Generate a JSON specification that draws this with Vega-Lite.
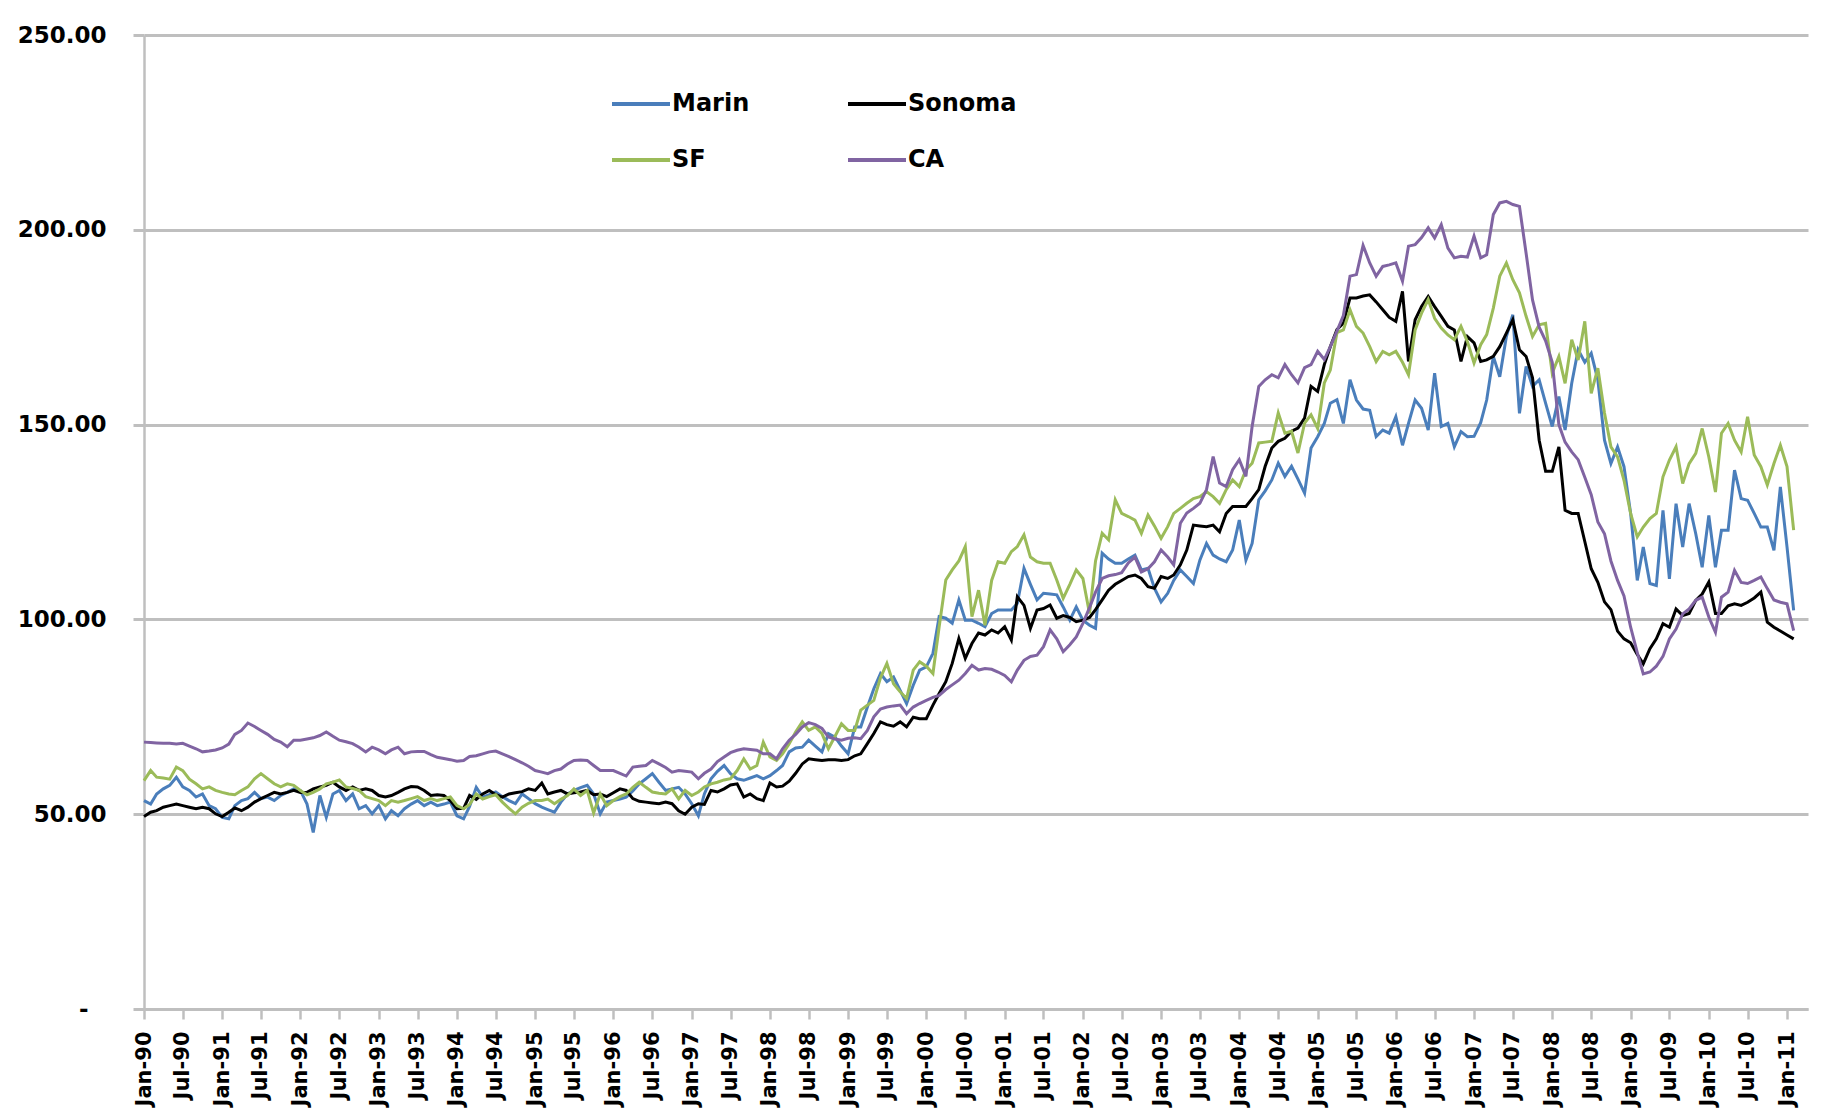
{
"$schema": "https://vega.github.io/schema/vega-lite/v6.json",
"width": 1664, "height": 974,
"autosize": {"type": "none"},
"padding": {"left": 144, "top": 35, "right": 17, "bottom": 108},
"background": "white",
"config": {"view": {"stroke": null}},
"data": {"format": {"parse": {"d": "date:'%Y-%m'"}}, "values": [
{"d":"1990-01","Marin":53.5,"Sonoma":49.4,"SF":58.6,"CA":68.5},
{"d":"1990-02","Marin":52.6,"Sonoma":50.5,"SF":61.2,"CA":68.4},
{"d":"1990-03","Marin":55.2,"Sonoma":50.9,"SF":59.5,"CA":68.3},
{"d":"1990-04","Marin":56.5,"Sonoma":51.8,"SF":59.3,"CA":68.2},
{"d":"1990-05","Marin":57.4,"Sonoma":52.2,"SF":59.0,"CA":68.2},
{"d":"1990-06","Marin":59.5,"Sonoma":52.6,"SF":62.1,"CA":68.0},
{"d":"1990-07","Marin":57.0,"Sonoma":52.2,"SF":61.2,"CA":68.2},
{"d":"1990-08","Marin":56.1,"Sonoma":51.8,"SF":59.0,"CA":67.5},
{"d":"1990-09","Marin":54.4,"Sonoma":51.4,"SF":57.8,"CA":66.8},
{"d":"1990-10","Marin":55.2,"Sonoma":51.8,"SF":56.5,"CA":66.0},
{"d":"1990-11","Marin":52.2,"Sonoma":51.4,"SF":57.0,"CA":66.2},
{"d":"1990-12","Marin":51.4,"Sonoma":50.1,"SF":56.1,"CA":66.5},
{"d":"1991-01","Marin":49.2,"Sonoma":49.4,"SF":55.6,"CA":67.0},
{"d":"1991-02","Marin":48.8,"Sonoma":50.5,"SF":55.2,"CA":68.0},
{"d":"1991-03","Marin":52.2,"Sonoma":51.6,"SF":55.0,"CA":70.5},
{"d":"1991-04","Marin":53.5,"Sonoma":50.9,"SF":56.1,"CA":71.5},
{"d":"1991-05","Marin":54.0,"Sonoma":51.8,"SF":57.0,"CA":73.4},
{"d":"1991-06","Marin":55.6,"Sonoma":53.1,"SF":59.1,"CA":72.5},
{"d":"1991-07","Marin":54.0,"Sonoma":54.0,"SF":60.4,"CA":71.5},
{"d":"1991-08","Marin":54.4,"Sonoma":54.8,"SF":59.1,"CA":70.5},
{"d":"1991-09","Marin":53.5,"Sonoma":55.6,"SF":57.8,"CA":69.2},
{"d":"1991-10","Marin":54.8,"Sonoma":55.2,"SF":57.0,"CA":68.5},
{"d":"1991-11","Marin":55.6,"Sonoma":55.6,"SF":57.8,"CA":67.3},
{"d":"1991-12","Marin":56.5,"Sonoma":56.1,"SF":57.4,"CA":69.0},
{"d":"1992-01","Marin":56.1,"Sonoma":55.6,"SF":56.1,"CA":69.0},
{"d":"1992-02","Marin":52.6,"Sonoma":55.6,"SF":55.0,"CA":69.3},
{"d":"1992-03","Marin":45.3,"Sonoma":56.5,"SF":55.6,"CA":69.6},
{"d":"1992-04","Marin":54.8,"Sonoma":57.0,"SF":56.5,"CA":70.2},
{"d":"1992-05","Marin":49.2,"Sonoma":57.4,"SF":57.8,"CA":71.1},
{"d":"1992-06","Marin":55.2,"Sonoma":58.2,"SF":58.2,"CA":70.0},
{"d":"1992-07","Marin":56.1,"Sonoma":57.0,"SF":58.8,"CA":69.0},
{"d":"1992-08","Marin":53.5,"Sonoma":56.1,"SF":57.0,"CA":68.6},
{"d":"1992-09","Marin":55.2,"Sonoma":57.0,"SF":56.6,"CA":68.1},
{"d":"1992-10","Marin":51.4,"Sonoma":56.1,"SF":56.1,"CA":67.2},
{"d":"1992-11","Marin":52.2,"Sonoma":56.5,"SF":54.5,"CA":66.0},
{"d":"1992-12","Marin":50.1,"Sonoma":56.1,"SF":54.0,"CA":67.2},
{"d":"1993-01","Marin":52.2,"Sonoma":54.8,"SF":53.5,"CA":66.5},
{"d":"1993-02","Marin":48.8,"Sonoma":54.4,"SF":52.2,"CA":65.5},
{"d":"1993-03","Marin":50.9,"Sonoma":54.8,"SF":53.5,"CA":66.5},
{"d":"1993-04","Marin":49.6,"Sonoma":55.6,"SF":53.1,"CA":67.2},
{"d":"1993-05","Marin":51.4,"Sonoma":56.5,"SF":53.5,"CA":65.5},
{"d":"1993-06","Marin":52.6,"Sonoma":57.1,"SF":54.0,"CA":66.0},
{"d":"1993-07","Marin":53.5,"Sonoma":57.0,"SF":54.5,"CA":66.1},
{"d":"1993-08","Marin":52.2,"Sonoma":56.1,"SF":53.5,"CA":66.1},
{"d":"1993-09","Marin":53.1,"Sonoma":54.8,"SF":54.0,"CA":65.3},
{"d":"1993-10","Marin":52.2,"Sonoma":55.0,"SF":53.5,"CA":64.6},
{"d":"1993-11","Marin":52.6,"Sonoma":54.8,"SF":54.0,"CA":64.3},
{"d":"1993-12","Marin":53.1,"Sonoma":53.5,"SF":54.4,"CA":64.0},
{"d":"1994-01","Marin":49.6,"Sonoma":51.4,"SF":52.2,"CA":63.6},
{"d":"1994-02","Marin":48.8,"Sonoma":51.5,"SF":51.4,"CA":63.8},
{"d":"1994-03","Marin":52.0,"Sonoma":54.8,"SF":52.5,"CA":64.8},
{"d":"1994-04","Marin":56.9,"Sonoma":53.8,"SF":55.2,"CA":65.0},
{"d":"1994-05","Marin":54.4,"Sonoma":55.2,"SF":53.9,"CA":65.5},
{"d":"1994-06","Marin":55.0,"Sonoma":56.1,"SF":54.5,"CA":66.0},
{"d":"1994-07","Marin":55.7,"Sonoma":55.0,"SF":55.0,"CA":66.2},
{"d":"1994-08","Marin":54.5,"Sonoma":54.4,"SF":53.1,"CA":65.5},
{"d":"1994-09","Marin":53.5,"Sonoma":55.2,"SF":51.5,"CA":64.8},
{"d":"1994-10","Marin":52.7,"Sonoma":55.5,"SF":50.1,"CA":64.0},
{"d":"1994-11","Marin":55.2,"Sonoma":55.8,"SF":51.8,"CA":63.2},
{"d":"1994-12","Marin":54.0,"Sonoma":56.5,"SF":52.8,"CA":62.3},
{"d":"1995-01","Marin":52.7,"Sonoma":56.1,"SF":53.5,"CA":61.2},
{"d":"1995-02","Marin":51.8,"Sonoma":58.0,"SF":53.5,"CA":60.8},
{"d":"1995-03","Marin":51.2,"Sonoma":55.2,"SF":53.9,"CA":60.4},
{"d":"1995-04","Marin":50.5,"Sonoma":55.7,"SF":52.7,"CA":61.2},
{"d":"1995-05","Marin":53.1,"Sonoma":56.1,"SF":53.8,"CA":61.6},
{"d":"1995-06","Marin":55.2,"Sonoma":55.2,"SF":54.8,"CA":62.9},
{"d":"1995-07","Marin":56.1,"Sonoma":55.5,"SF":56.5,"CA":63.8},
{"d":"1995-08","Marin":56.8,"Sonoma":55.7,"SF":54.8,"CA":63.9},
{"d":"1995-09","Marin":57.4,"Sonoma":56.1,"SF":56.1,"CA":63.8},
{"d":"1995-10","Marin":55.2,"Sonoma":55.0,"SF":50.3,"CA":62.5},
{"d":"1995-11","Marin":50.1,"Sonoma":55.2,"SF":55.2,"CA":61.2},
{"d":"1995-12","Marin":53.1,"Sonoma":54.5,"SF":52.2,"CA":61.2},
{"d":"1996-01","Marin":53.5,"Sonoma":55.5,"SF":53.5,"CA":61.2},
{"d":"1996-02","Marin":53.9,"Sonoma":56.5,"SF":54.5,"CA":60.5},
{"d":"1996-03","Marin":54.4,"Sonoma":56.1,"SF":55.2,"CA":59.8},
{"d":"1996-04","Marin":56.0,"Sonoma":54.0,"SF":56.9,"CA":62.1},
{"d":"1996-05","Marin":57.8,"Sonoma":53.3,"SF":58.2,"CA":62.3},
{"d":"1996-06","Marin":59.1,"Sonoma":53.1,"SF":56.9,"CA":62.5},
{"d":"1996-07","Marin":60.4,"Sonoma":52.9,"SF":55.7,"CA":63.8},
{"d":"1996-08","Marin":58.2,"Sonoma":52.7,"SF":55.4,"CA":62.9},
{"d":"1996-09","Marin":56.1,"Sonoma":53.1,"SF":55.2,"CA":62.0},
{"d":"1996-10","Marin":56.5,"Sonoma":52.7,"SF":56.5,"CA":60.8},
{"d":"1996-11","Marin":56.9,"Sonoma":50.9,"SF":53.9,"CA":61.2},
{"d":"1996-12","Marin":55.2,"Sonoma":50.0,"SF":56.1,"CA":61.0},
{"d":"1997-01","Marin":52.7,"Sonoma":51.8,"SF":54.8,"CA":60.8},
{"d":"1997-02","Marin":49.6,"Sonoma":52.7,"SF":55.7,"CA":59.1},
{"d":"1997-03","Marin":55.2,"Sonoma":52.5,"SF":57.0,"CA":60.5},
{"d":"1997-04","Marin":59.1,"Sonoma":56.1,"SF":57.8,"CA":61.6},
{"d":"1997-05","Marin":61.0,"Sonoma":55.7,"SF":58.2,"CA":63.5},
{"d":"1997-06","Marin":62.5,"Sonoma":56.5,"SF":58.8,"CA":64.7},
{"d":"1997-07","Marin":60.4,"Sonoma":57.5,"SF":59.1,"CA":65.8},
{"d":"1997-08","Marin":59.1,"Sonoma":57.8,"SF":61.2,"CA":66.4},
{"d":"1997-09","Marin":58.7,"Sonoma":54.4,"SF":64.2,"CA":66.8},
{"d":"1997-10","Marin":59.3,"Sonoma":55.2,"SF":61.6,"CA":66.6},
{"d":"1997-11","Marin":59.9,"Sonoma":54.0,"SF":62.5,"CA":66.4},
{"d":"1997-12","Marin":59.1,"Sonoma":53.5,"SF":68.5,"CA":65.5},
{"d":"1998-01","Marin":59.9,"Sonoma":58.0,"SF":64.7,"CA":65.5},
{"d":"1998-02","Marin":61.2,"Sonoma":57.0,"SF":63.8,"CA":64.2},
{"d":"1998-03","Marin":62.5,"Sonoma":57.2,"SF":65.5,"CA":66.8},
{"d":"1998-04","Marin":66.0,"Sonoma":58.5,"SF":68.1,"CA":69.0},
{"d":"1998-05","Marin":67.0,"Sonoma":60.5,"SF":71.1,"CA":70.5},
{"d":"1998-06","Marin":67.2,"Sonoma":62.9,"SF":73.7,"CA":72.4},
{"d":"1998-07","Marin":69.0,"Sonoma":64.2,"SF":71.5,"CA":73.5},
{"d":"1998-08","Marin":67.5,"Sonoma":64.0,"SF":72.4,"CA":73.0},
{"d":"1998-09","Marin":66.0,"Sonoma":63.8,"SF":70.7,"CA":72.0},
{"d":"1998-10","Marin":70.7,"Sonoma":64.0,"SF":66.8,"CA":69.8},
{"d":"1998-11","Marin":69.8,"Sonoma":64.0,"SF":70.0,"CA":69.3},
{"d":"1998-12","Marin":67.5,"Sonoma":63.8,"SF":73.2,"CA":69.0},
{"d":"1999-01","Marin":65.5,"Sonoma":64.0,"SF":71.5,"CA":69.5},
{"d":"1999-02","Marin":72.4,"Sonoma":65.0,"SF":71.5,"CA":69.6},
{"d":"1999-03","Marin":72.4,"Sonoma":65.5,"SF":76.7,"CA":69.4},
{"d":"1999-04","Marin":77.5,"Sonoma":68.1,"SF":78.0,"CA":71.5},
{"d":"1999-05","Marin":82.2,"Sonoma":70.7,"SF":79.2,"CA":75.0},
{"d":"1999-06","Marin":86.1,"Sonoma":73.7,"SF":85.0,"CA":77.0},
{"d":"1999-07","Marin":84.0,"Sonoma":73.0,"SF":88.7,"CA":77.5},
{"d":"1999-08","Marin":85.2,"Sonoma":72.6,"SF":83.5,"CA":77.8},
{"d":"1999-09","Marin":81.8,"Sonoma":73.7,"SF":81.4,"CA":78.0},
{"d":"1999-10","Marin":78.4,"Sonoma":72.4,"SF":79.7,"CA":75.8},
{"d":"1999-11","Marin":83.1,"Sonoma":74.9,"SF":87.0,"CA":77.5},
{"d":"1999-12","Marin":87.0,"Sonoma":74.5,"SF":89.1,"CA":78.4},
{"d":"2000-01","Marin":87.8,"Sonoma":74.5,"SF":88.0,"CA":79.2},
{"d":"2000-02","Marin":91.3,"Sonoma":78.0,"SF":86.1,"CA":80.0},
{"d":"2000-03","Marin":100.7,"Sonoma":81.0,"SF":98.1,"CA":80.5},
{"d":"2000-04","Marin":100.3,"Sonoma":84.0,"SF":110.1,"CA":82.0},
{"d":"2000-05","Marin":99.0,"Sonoma":88.7,"SF":112.7,"CA":83.2},
{"d":"2000-06","Marin":105.0,"Sonoma":95.1,"SF":115.0,"CA":84.4},
{"d":"2000-07","Marin":99.8,"Sonoma":90.0,"SF":118.7,"CA":86.1},
{"d":"2000-08","Marin":99.8,"Sonoma":93.8,"SF":100.7,"CA":88.2},
{"d":"2000-09","Marin":99.0,"Sonoma":96.5,"SF":107.5,"CA":87.0},
{"d":"2000-10","Marin":98.1,"Sonoma":96.0,"SF":98.5,"CA":87.4},
{"d":"2000-11","Marin":101.5,"Sonoma":97.3,"SF":110.0,"CA":87.2},
{"d":"2000-12","Marin":102.4,"Sonoma":96.5,"SF":114.8,"CA":86.5},
{"d":"2001-01","Marin":102.4,"Sonoma":98.1,"SF":114.4,"CA":85.6},
{"d":"2001-02","Marin":102.4,"Sonoma":94.7,"SF":117.4,"CA":84.0},
{"d":"2001-03","Marin":104.1,"Sonoma":105.8,"SF":118.7,"CA":87.0},
{"d":"2001-04","Marin":113.1,"Sonoma":103.6,"SF":121.7,"CA":89.5},
{"d":"2001-05","Marin":109.0,"Sonoma":97.7,"SF":116.0,"CA":90.5},
{"d":"2001-06","Marin":105.0,"Sonoma":102.4,"SF":114.8,"CA":90.8},
{"d":"2001-07","Marin":106.7,"Sonoma":102.8,"SF":114.4,"CA":93.0},
{"d":"2001-08","Marin":106.5,"Sonoma":103.7,"SF":114.4,"CA":97.3},
{"d":"2001-09","Marin":106.3,"Sonoma":100.3,"SF":110.1,"CA":95.0},
{"d":"2001-10","Marin":103.2,"Sonoma":101.0,"SF":105.4,"CA":91.7},
{"d":"2001-11","Marin":99.8,"Sonoma":100.5,"SF":109.0,"CA":93.5},
{"d":"2001-12","Marin":103.2,"Sonoma":99.4,"SF":112.7,"CA":95.5},
{"d":"2002-01","Marin":99.8,"Sonoma":99.8,"SF":110.5,"CA":99.0},
{"d":"2002-02","Marin":98.5,"Sonoma":100.5,"SF":101.5,"CA":103.0},
{"d":"2002-03","Marin":97.7,"Sonoma":102.5,"SF":115.0,"CA":107.0},
{"d":"2002-04","Marin":117.0,"Sonoma":105.0,"SF":122.1,"CA":110.5},
{"d":"2002-05","Marin":115.5,"Sonoma":107.5,"SF":120.4,"CA":111.2},
{"d":"2002-06","Marin":114.4,"Sonoma":109.0,"SF":130.7,"CA":111.5},
{"d":"2002-07","Marin":114.4,"Sonoma":110.0,"SF":127.2,"CA":112.0},
{"d":"2002-08","Marin":115.5,"Sonoma":111.0,"SF":126.4,"CA":114.5},
{"d":"2002-09","Marin":116.5,"Sonoma":111.4,"SF":125.5,"CA":116.0},
{"d":"2002-10","Marin":112.7,"Sonoma":110.5,"SF":122.1,"CA":112.2},
{"d":"2002-11","Marin":113.1,"Sonoma":108.4,"SF":126.8,"CA":113.0},
{"d":"2002-12","Marin":108.0,"Sonoma":108.0,"SF":124.0,"CA":114.8},
{"d":"2003-01","Marin":104.5,"Sonoma":111.0,"SF":120.8,"CA":117.8},
{"d":"2003-02","Marin":106.7,"Sonoma":110.5,"SF":123.8,"CA":116.0},
{"d":"2003-03","Marin":110.0,"Sonoma":111.4,"SF":127.2,"CA":114.0},
{"d":"2003-04","Marin":112.7,"Sonoma":114.0,"SF":128.5,"CA":124.7},
{"d":"2003-05","Marin":111.0,"Sonoma":117.8,"SF":129.8,"CA":127.3},
{"d":"2003-06","Marin":109.2,"Sonoma":124.2,"SF":131.0,"CA":128.5},
{"d":"2003-07","Marin":115.2,"Sonoma":124.0,"SF":131.5,"CA":129.8},
{"d":"2003-08","Marin":119.5,"Sonoma":123.8,"SF":132.8,"CA":133.3},
{"d":"2003-09","Marin":116.5,"Sonoma":124.2,"SF":131.5,"CA":141.8},
{"d":"2003-10","Marin":115.5,"Sonoma":122.5,"SF":129.8,"CA":135.0},
{"d":"2003-11","Marin":114.8,"Sonoma":127.2,"SF":133.3,"CA":134.1},
{"d":"2003-12","Marin":117.8,"Sonoma":129.0,"SF":135.8,"CA":138.4},
{"d":"2004-01","Marin":125.5,"Sonoma":129.0,"SF":134.1,"CA":141.0},
{"d":"2004-02","Marin":115.2,"Sonoma":129.0,"SF":138.4,"CA":136.7},
{"d":"2004-03","Marin":119.5,"Sonoma":131.0,"SF":140.1,"CA":149.5},
{"d":"2004-04","Marin":130.7,"Sonoma":133.3,"SF":145.3,"CA":159.8},
{"d":"2004-05","Marin":133.0,"Sonoma":139.3,"SF":145.5,"CA":161.5},
{"d":"2004-06","Marin":135.8,"Sonoma":144.0,"SF":145.7,"CA":162.8},
{"d":"2004-07","Marin":140.1,"Sonoma":145.7,"SF":153.0,"CA":162.0},
{"d":"2004-08","Marin":136.7,"Sonoma":146.5,"SF":147.8,"CA":165.4},
{"d":"2004-09","Marin":139.3,"Sonoma":148.3,"SF":148.3,"CA":162.8},
{"d":"2004-10","Marin":136.0,"Sonoma":149.1,"SF":142.7,"CA":160.7},
{"d":"2004-11","Marin":132.4,"Sonoma":151.7,"SF":150.4,"CA":164.6},
{"d":"2004-12","Marin":144.0,"Sonoma":159.8,"SF":152.5,"CA":165.4},
{"d":"2005-01","Marin":146.9,"Sonoma":158.5,"SF":149.0,"CA":168.8},
{"d":"2005-02","Marin":150.3,"Sonoma":165.4,"SF":160.7,"CA":166.7},
{"d":"2005-03","Marin":155.5,"Sonoma":170.0,"SF":164.0,"CA":170.0},
{"d":"2005-04","Marin":156.4,"Sonoma":174.4,"SF":173.6,"CA":174.0},
{"d":"2005-05","Marin":150.3,"Sonoma":176.0,"SF":174.3,"CA":178.0},
{"d":"2005-06","Marin":161.5,"Sonoma":182.5,"SF":179.5,"CA":188.1},
{"d":"2005-07","Marin":156.3,"Sonoma":182.5,"SF":175.2,"CA":188.5},
{"d":"2005-08","Marin":154.0,"Sonoma":183.0,"SF":173.5,"CA":196.0},
{"d":"2005-09","Marin":153.7,"Sonoma":183.3,"SF":170.0,"CA":191.5},
{"d":"2005-10","Marin":146.9,"Sonoma":181.5,"SF":166.2,"CA":188.1},
{"d":"2005-11","Marin":148.6,"Sonoma":179.5,"SF":168.8,"CA":190.6},
{"d":"2005-12","Marin":147.8,"Sonoma":177.5,"SF":167.9,"CA":191.0},
{"d":"2006-01","Marin":152.0,"Sonoma":176.5,"SF":168.8,"CA":191.5},
{"d":"2006-02","Marin":144.7,"Sonoma":184.2,"SF":166.0,"CA":186.8},
{"d":"2006-03","Marin":150.3,"Sonoma":166.2,"SF":162.8,"CA":195.8},
{"d":"2006-04","Marin":156.3,"Sonoma":176.9,"SF":174.3,"CA":196.2},
{"d":"2006-05","Marin":154.2,"Sonoma":180.3,"SF":178.6,"CA":198.0},
{"d":"2006-06","Marin":148.6,"Sonoma":182.9,"SF":182.1,"CA":200.5},
{"d":"2006-07","Marin":163.2,"Sonoma":180.3,"SF":177.3,"CA":197.9},
{"d":"2006-08","Marin":149.5,"Sonoma":177.8,"SF":174.8,"CA":201.3},
{"d":"2006-09","Marin":150.3,"Sonoma":175.2,"SF":173.0,"CA":195.3},
{"d":"2006-10","Marin":144.3,"Sonoma":174.3,"SF":171.8,"CA":192.8},
{"d":"2006-11","Marin":148.2,"Sonoma":166.2,"SF":175.2,"CA":193.2},
{"d":"2006-12","Marin":146.9,"Sonoma":172.6,"SF":171.3,"CA":193.0},
{"d":"2007-01","Marin":147.0,"Sonoma":171.0,"SF":165.8,"CA":198.4},
{"d":"2007-02","Marin":150.5,"Sonoma":166.2,"SF":170.5,"CA":192.8},
{"d":"2007-03","Marin":156.3,"Sonoma":166.6,"SF":173.1,"CA":193.6},
{"d":"2007-04","Marin":167.5,"Sonoma":167.5,"SF":179.9,"CA":203.9},
{"d":"2007-05","Marin":162.3,"Sonoma":170.0,"SF":188.1,"CA":206.9},
{"d":"2007-06","Marin":172.6,"Sonoma":173.5,"SF":191.5,"CA":207.3},
{"d":"2007-07","Marin":178.2,"Sonoma":176.9,"SF":187.2,"CA":206.5},
{"d":"2007-08","Marin":152.9,"Sonoma":169.2,"SF":183.8,"CA":206.0},
{"d":"2007-09","Marin":164.9,"Sonoma":167.5,"SF":177.8,"CA":194.0},
{"d":"2007-10","Marin":159.8,"Sonoma":162.0,"SF":172.6,"CA":182.0},
{"d":"2007-11","Marin":161.5,"Sonoma":146.0,"SF":175.6,"CA":175.0},
{"d":"2007-12","Marin":155.5,"Sonoma":138.0,"SF":176.0,"CA":171.5},
{"d":"2008-01","Marin":149.5,"Sonoma":138.0,"SF":163.2,"CA":166.0},
{"d":"2008-02","Marin":157.2,"Sonoma":144.3,"SF":167.5,"CA":150.0},
{"d":"2008-03","Marin":148.6,"Sonoma":128.0,"SF":160.6,"CA":145.5},
{"d":"2008-04","Marin":160.6,"Sonoma":127.2,"SF":171.8,"CA":143.0},
{"d":"2008-05","Marin":169.2,"Sonoma":127.2,"SF":166.6,"CA":141.0},
{"d":"2008-06","Marin":166.0,"Sonoma":120.0,"SF":176.5,"CA":136.5},
{"d":"2008-07","Marin":168.3,"Sonoma":113.0,"SF":158.0,"CA":132.0},
{"d":"2008-08","Marin":161.5,"Sonoma":109.5,"SF":164.5,"CA":125.0},
{"d":"2008-09","Marin":146.0,"Sonoma":104.5,"SF":153.0,"CA":122.0},
{"d":"2008-10","Marin":140.0,"Sonoma":102.5,"SF":144.3,"CA":115.0},
{"d":"2008-11","Marin":144.3,"Sonoma":97.0,"SF":141.7,"CA":110.0},
{"d":"2008-12","Marin":139.2,"Sonoma":95.0,"SF":135.7,"CA":106.0},
{"d":"2009-01","Marin":127.2,"Sonoma":94.0,"SF":127.2,"CA":98.0},
{"d":"2009-02","Marin":110.0,"Sonoma":91.0,"SF":121.2,"CA":91.5},
{"d":"2009-03","Marin":118.6,"Sonoma":88.6,"SF":123.7,"CA":86.0},
{"d":"2009-04","Marin":109.2,"Sonoma":92.5,"SF":125.9,"CA":86.5},
{"d":"2009-05","Marin":108.7,"Sonoma":95.0,"SF":127.2,"CA":88.0},
{"d":"2009-06","Marin":128.0,"Sonoma":98.9,"SF":136.6,"CA":90.5},
{"d":"2009-07","Marin":110.4,"Sonoma":98.0,"SF":140.9,"CA":95.0},
{"d":"2009-08","Marin":129.7,"Sonoma":102.7,"SF":144.3,"CA":97.5},
{"d":"2009-09","Marin":118.6,"Sonoma":101.0,"SF":134.9,"CA":101.4},
{"d":"2009-10","Marin":129.7,"Sonoma":101.5,"SF":140.0,"CA":102.7},
{"d":"2009-11","Marin":122.0,"Sonoma":104.9,"SF":142.6,"CA":104.9},
{"d":"2009-12","Marin":113.4,"Sonoma":106.5,"SF":149.0,"CA":105.7},
{"d":"2010-01","Marin":126.7,"Sonoma":109.6,"SF":141.7,"CA":100.6},
{"d":"2010-02","Marin":113.4,"Sonoma":101.5,"SF":132.7,"CA":96.7},
{"d":"2010-03","Marin":122.9,"Sonoma":101.5,"SF":147.8,"CA":105.7},
{"d":"2010-04","Marin":122.9,"Sonoma":103.5,"SF":150.3,"CA":107.0},
{"d":"2010-05","Marin":138.3,"Sonoma":104.0,"SF":146.0,"CA":112.6},
{"d":"2010-06","Marin":131.0,"Sonoma":103.6,"SF":143.0,"CA":109.5},
{"d":"2010-07","Marin":130.6,"Sonoma":104.4,"SF":152.0,"CA":109.2},
{"d":"2010-08","Marin":127.2,"Sonoma":105.5,"SF":142.2,"CA":110.0},
{"d":"2010-09","Marin":123.7,"Sonoma":107.0,"SF":139.2,"CA":110.9},
{"d":"2010-10","Marin":123.7,"Sonoma":99.3,"SF":134.5,"CA":107.9},
{"d":"2010-11","Marin":117.7,"Sonoma":98.0,"SF":140.0,"CA":105.0},
{"d":"2010-12","Marin":134.0,"Sonoma":97.0,"SF":144.7,"CA":104.4},
{"d":"2011-01","Marin":118.6,"Sonoma":96.0,"SF":139.2,"CA":104.0},
{"d":"2011-02","Marin":102.3,"Sonoma":95.0,"SF":122.9,"CA":97.1}
]},
"transform": [{"fold": ["Marin", "Sonoma", "SF", "CA"], "as": ["series", "value"]}],
"mark": {"type": "line", "strokeWidth": 3},
"encoding": {
  "x": {"field": "d", "type": "temporal",
    "scale": {"domain": [{"year": 1990, "month": 1, "date": 1}, {"year": 2011, "month": 4, "date": 9}]},
    "axis": {"title": null, "format": "%b-%y", "tickCount": {"interval": "month", "step": 6},
      "labelAngle": 270, "labelFont": "DejaVu Sans", "labelFontWeight": "bold", "labelFontSize": 21,
      "labelColor": "#000000", "tickSize": 10, "tickColor": "#BFBFBF", "tickWidth": 2.5,
      "domainColor": "#BFBFBF", "domainWidth": 2.5, "labelPadding": 12, "grid": false,
      "labelOverlap": false, "labelFlush": false}},
  "y": {"field": "value", "type": "quantitative",
    "scale": {"domain": [0, 250], "nice": false},
    "axis": {"title": null, "values": [0, 50, 100, 150, 200, 250],
      "labelExpr": "datum.value == 0 ? '-\u2800' : format(datum.value, '.2f')",
      "labelFont": "DejaVu Sans", "labelFontWeight": "bold", "labelFontSize": 23, "labelColor": "#000000",
      "tickSize": 11, "tickColor": "#BFBFBF", "tickWidth": 3, "labelPadding": 27,
      "domainColor": "#BFBFBF", "domainWidth": 2.5, "grid": true, "gridColor": "#BFBFBF", "gridWidth": 3}},
  "color": {"field": "series", "type": "nominal",
    "scale": {"domain": ["Marin", "Sonoma", "SF", "CA"], "range": ["#4A7EBB", "#000000", "#9BBB59", "#8064A2"]},
    "legend": {"title": null, "orient": "none", "legendX": 466, "legendY": 38, "columns": 2, "direction": "horizontal",
      "symbolType": "stroke", "symbolSize": 3364, "symbolStrokeWidth": 4,
      "labelFont": "DejaVu Sans", "labelFontWeight": "bold", "labelFontSize": 24, "labelColor": "#000000",
      "labelOffset": 0, "columnPadding": 90, "rowPadding": 13, "padding": 0}}
}
}
